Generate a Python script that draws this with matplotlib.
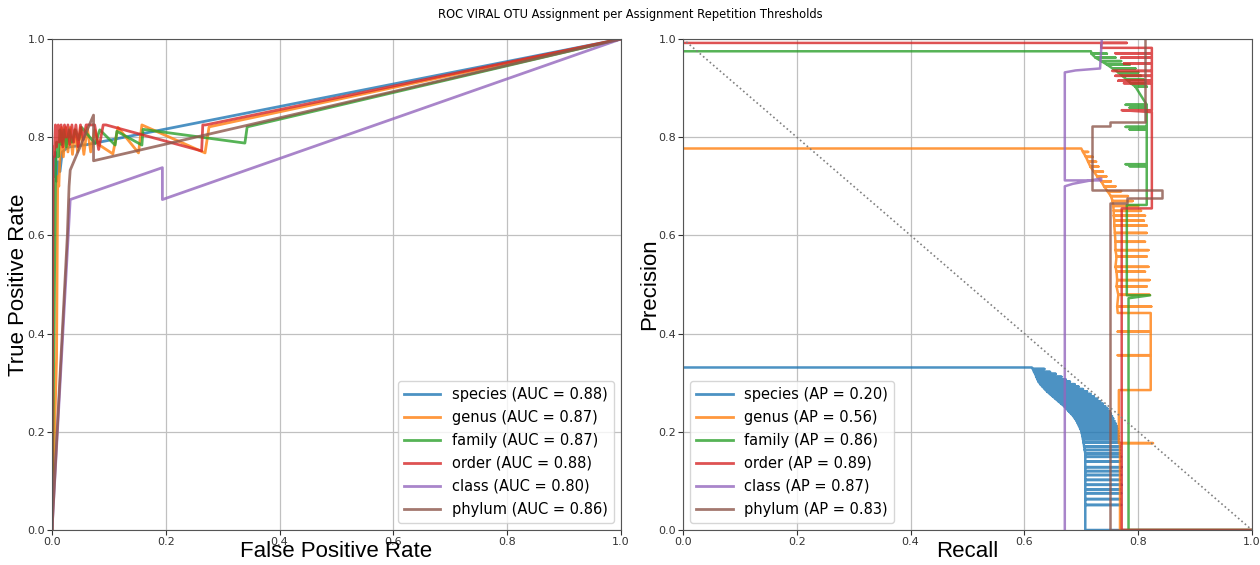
import matplotlib
matplotlib.use("Agg")
import matplotlib.pyplot as plt

labels = ["species", "genus", "family", "order", "class", "phylum"]
auc = [0.88, 0.87, 0.87, 0.88, 0.80, 0.86]
ap = [0.20, 0.56, 0.86, 0.89, 0.87, 0.83]
colors = ["#1f77b4", "#ff7f0e", "#2ca02c", "#d62728", "#9467bd", "#8c564b"]

# ROC curves (fpr, tpr)
species_fpr = [0.0, 0.002, 0.004, 0.006, 0.008, 0.011, 0.014, 0.018, 0.023, 0.03, 0.062, 1.0]
species_tpr = [0.0, 0.76, 0.72, 0.77, 0.71, 0.75, 0.73, 0.77, 0.775, 0.78, 0.785, 1.0]

genus_fpr = [0.0, 0.008, 0.010, 0.012, 0.014, 0.017, 0.020, 0.024, 0.028, 0.032, 0.036, 0.040,
             0.045, 0.050, 0.056, 0.062, 0.068, 0.075, 0.082, 0.107, 0.116, 0.152, 0.158, 0.269, 0.276, 1.0]
genus_tpr = [0.0, 0.35, 0.72, 0.70, 0.76, 0.82, 0.76, 0.82, 0.77, 0.82, 0.765, 0.815,
             0.77, 0.82, 0.765, 0.82, 0.77, 0.815, 0.785, 0.766, 0.82, 0.768, 0.825, 0.768, 0.821, 1.0]

family_fpr = [0.0, 0.006, 0.008, 0.011, 0.014, 0.017, 0.021, 0.025, 0.03, 0.035, 0.041, 0.047,
              0.052, 0.076, 0.084, 0.111, 0.114, 0.158, 0.160, 0.339, 0.343, 1.0]
family_tpr = [0.0, 0.70, 0.79, 0.76, 0.815, 0.785, 0.815, 0.78, 0.815, 0.79, 0.815, 0.795,
              0.82, 0.787, 0.815, 0.784, 0.812, 0.784, 0.816, 0.788, 0.821, 1.0]

order_fpr = [0.0, 0.002, 0.004, 0.006, 0.008, 0.011, 0.013, 0.016, 0.019, 0.022, 0.025, 0.028,
             0.031, 0.035, 0.038, 0.042, 0.046, 0.05, 0.055, 0.06, 0.075, 0.082, 0.09, 0.095,
             0.263, 0.265, 0.27, 1.0]
order_tpr = [0.0, 0.78, 0.76, 0.825, 0.78, 0.825, 0.79, 0.825, 0.78, 0.825, 0.80, 0.825,
             0.785, 0.825, 0.79, 0.825, 0.78, 0.825, 0.795, 0.825, 0.825, 0.775, 0.825, 0.825,
             0.772, 0.825, 0.825, 1.0]

class_fpr = [0.0, 0.032, 0.194, 0.194, 1.0]
class_tpr = [0.0, 0.673, 0.738, 0.673, 1.0]

phylum_fpr = [0.0, 0.027, 0.030, 0.032, 0.073, 0.073, 1.0]
phylum_tpr = [0.0, 0.60, 0.70, 0.733, 0.845, 0.752, 1.0]

# PR curves, dense "teeth" given as precision level, base recall, tip recall
species_teeth_p = [0.328, 0.322, 0.318, 0.312, 0.307, 0.302, 0.297, 0.292, 0.287, 0.282,
                   0.277, 0.272, 0.267, 0.262, 0.257, 0.252, 0.247, 0.242, 0.237, 0.232,
                   0.227, 0.222, 0.217, 0.212, 0.207, 0.202, 0.197, 0.191, 0.185, 0.178,
                   0.170, 0.163, 0.156, 0.149, 0.140, 0.128, 0.120, 0.112, 0.102, 0.092,
                   0.083, 0.075, 0.063, 0.051]
species_teeth_base = [0.615, 0.617, 0.619, 0.621, 0.623, 0.625, 0.628, 0.632, 0.636, 0.640,
                      0.645, 0.650, 0.655, 0.660, 0.665, 0.670, 0.674, 0.678, 0.682, 0.686,
                      0.689, 0.692, 0.694, 0.696, 0.698, 0.700, 0.701, 0.702, 0.703, 0.704,
                      0.705, 0.706, 0.707, 0.707, 0.707, 0.707, 0.707, 0.707, 0.707, 0.707,
                      0.707, 0.707, 0.707, 0.707]
species_teeth_tip = [0.635, 0.645, 0.655, 0.665, 0.672, 0.680, 0.688, 0.695, 0.703, 0.710,
                     0.716, 0.722, 0.728, 0.733, 0.738, 0.742, 0.746, 0.750, 0.752, 0.754,
                     0.756, 0.758, 0.760, 0.762, 0.763, 0.764, 0.765, 0.766, 0.766, 0.767,
                     0.768, 0.768, 0.767, 0.770, 0.768, 0.771, 0.768, 0.770, 0.768, 0.771,
                     0.768, 0.770, 0.768, 0.770]

genus_teeth_p = [0.770, 0.760, 0.750, 0.740, 0.730, 0.720, 0.710, 0.700, 0.690, 0.680,
                 0.670, 0.660, 0.650, 0.640, 0.630, 0.620, 0.605, 0.587, 0.570, 0.557, 0.536,
                 0.526, 0.509, 0.496, 0.479, 0.455]
genus_teeth_base = [0.703, 0.708, 0.712, 0.716, 0.722, 0.728, 0.735, 0.740, 0.746, 0.752,
                    0.755, 0.756, 0.757, 0.757, 0.758, 0.758, 0.759, 0.760, 0.760, 0.762, 0.760,
                    0.762, 0.763, 0.762, 0.765, 0.763]
genus_teeth_tip = [0.712, 0.720, 0.726, 0.730, 0.738, 0.744, 0.752, 0.760, 0.770, 0.782,
                   0.790, 0.800, 0.805, 0.812, 0.810, 0.815, 0.815, 0.812, 0.818, 0.815, 0.818,
                   0.812, 0.820, 0.815, 0.820, 0.823]

family_teeth_p = [0.970, 0.962, 0.955, 0.948, 0.940, 0.932, 0.925, 0.917, 0.910, 0.903]
family_teeth_base = [0.718, 0.725, 0.735, 0.745, 0.755, 0.765, 0.772, 0.780, 0.787, 0.795]
family_teeth_tip = [0.745, 0.760, 0.770, 0.785, 0.795, 0.800, 0.805, 0.810, 0.812, 0.815]
family_side_p = [0.866, 0.860, 0.821, 0.816, 0.745, 0.741]
family_side_tip = [0.778, 0.785, 0.778, 0.785, 0.778, 0.785]

order_teeth_p = [0.971, 0.962, 0.950, 0.935, 0.925, 0.915, 0.910]
order_teeth_tip = [0.760, 0.770, 0.775, 0.755, 0.760, 0.765, 0.775]


def comb(levels, base, tip):
    xs, ys = [], []
    if not isinstance(base, list):
        base = [base] * len(levels)
    for p, b, t in zip(levels, base, tip):
        xs += [b, t, b]
        ys += [p, p, p]
    return xs, ys


sx, sy = comb(species_teeth_p, species_teeth_base, species_teeth_tip)
species_rec = [0.0, 0.613] + sx + [0.707, 1.0]
species_prec = [0.331, 0.331] + sy + [0.0, 0.0]

gx, gy = comb(genus_teeth_p, genus_teeth_base, genus_teeth_tip)
genus_rec = [0.0, 0.700] + gx + [0.764, 0.822, 0.822, 0.764, 0.822, 0.822, 0.764, 0.822, 0.822,
                                 0.766, 0.766, 0.826, 0.768, 0.768, 1.0]
genus_prec = [0.777, 0.777] + gy + [0.442, 0.442, 0.404, 0.404, 0.404, 0.356, 0.356, 0.356, 0.285,
                                    0.285, 0.177, 0.177, 0.177, 0.0, 0.0]

fx, fy = comb(family_teeth_p, family_teeth_base, family_teeth_tip)
fx2, fy2 = comb(family_side_p, 0.815, family_side_tip)
family_rec = [0.0, 0.717] + fx + fx2 + [0.815, 0.780, 0.780, 0.821, 0.783, 0.783, 1.0]
family_prec = [0.975, 0.975] + fy + fy2 + [0.662, 0.662, 0.478, 0.478, 0.472, 0.0, 0.0]

ox, oy = comb(order_teeth_p, 0.824, order_teeth_tip)
order_rec = [0.0, 0.780, 0.735, 0.735, 0.824] + ox + [0.824, 0.771, 0.824, 0.824, 0.771, 0.771, 1.0]
order_prec = [0.992, 0.992, 0.992, 0.982, 0.982] + oy + [0.855, 0.855, 0.851, 0.655, 0.655, 0.0, 0.0]

class_rec = [0.671, 0.671, 0.685, 0.735, 0.735, 0.671, 0.671, 0.690, 0.733, 0.736]
class_prec = [0.0, 0.700, 0.705, 0.716, 0.712, 0.712, 0.932, 0.936, 0.940, 1.0]

phylum_rec = [0.812, 0.812, 0.750, 0.750, 0.718, 0.718, 0.841, 0.841, 0.780, 0.780, 0.750, 0.750, 1.0]
phylum_prec = [1.0, 0.830, 0.830, 0.822, 0.822, 0.692, 0.692, 0.677, 0.677, 0.665, 0.665, 0.0, 0.0]

roc = [(species_fpr, species_tpr), (genus_fpr, genus_tpr), (family_fpr, family_tpr),
       (order_fpr, order_tpr), (class_fpr, class_tpr), (phylum_fpr, phylum_tpr)]
pr = [(species_rec, species_prec), (genus_rec, genus_prec), (family_rec, family_prec),
      (order_rec, order_prec), (class_rec, class_prec), (phylum_rec, phylum_prec)]

plt.rcParams["axes.edgecolor"] = "#555555"
plt.rcParams["xtick.color"] = "#333333"
plt.rcParams["ytick.color"] = "#333333"

fig = plt.figure(figsize=(12.6, 5.65), dpi=100)
ax1 = fig.add_axes([52 / 1260, 35 / 565, 569 / 1260, 491 / 565])
ax2 = fig.add_axes([683 / 1260, 35 / 565, 569 / 1260, 491 / 565])
fig.suptitle("ROC VIRAL OTU Assignment per Assignment Repetition Thresholds", fontsize=8.3, y=0.985)

label_font = {"family": "Liberation Sans", "size": 16}

for (x, y), name, a, c in zip(roc, labels, auc, colors):
    ax1.plot(x, y, color=c, lw=2, alpha=0.8, label=f"{name} (AUC = {a:.2f})")
ax1.set_xlim(0, 1)
ax1.set_ylim(0, 1)
ax1.set_xlabel("False Positive Rate", fontdict=label_font, labelpad=-4.5)
ax1.set_ylabel("True Positive Rate", fontdict=label_font, labelpad=-1.5)
ax1.legend(loc="lower right", fontsize=10.5, handlelength=2.5, labelspacing=0.55)

for (x, y), name, a, c in zip(pr, labels, ap, colors):
    ax2.plot(x, y, color=c, lw=1.8, alpha=0.8, label=f"{name} (AP = {a:.2f})")
ax2.plot([0, 1], [1, 0], color="gray", linestyle=":", lw=1.2)
ax2.set_xlim(0, 1)
ax2.set_ylim(0, 1)
ax2.set_xlabel("Recall", fontdict=label_font, labelpad=-4.5)
ax2.set_ylabel("Precision", fontdict=label_font, labelpad=-1)
leg = ax2.legend(loc="lower left", fontsize=10.5, handlelength=2.5, labelspacing=0.55)
for h in leg.legend_handles:
    h.set_linewidth(2)

for ax in (ax1, ax2):
    ax.grid(True, color="#c0c0c0", lw=0.9)
    ax.tick_params(labelsize=8, length=3.5, pad=1.5)
    ax.set_xticks([0, 0.2, 0.4, 0.6, 0.8, 1.0])
    ax.set_yticks([0, 0.2, 0.4, 0.6, 0.8, 1.0])

fig.savefig("out.png", dpi=100)
